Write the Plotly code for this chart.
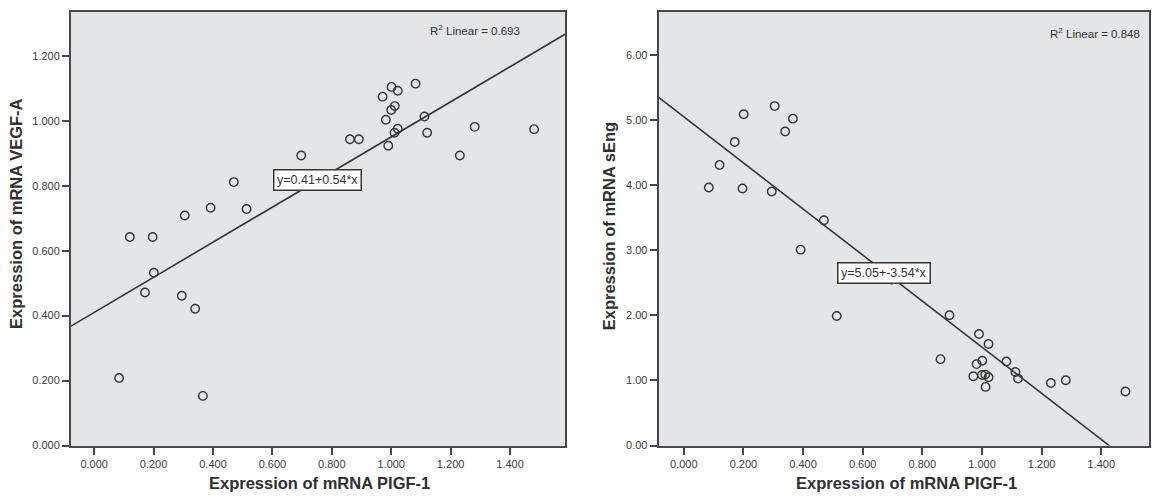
import plotly.graph_objects as go

# ---- data ----
pigf1 = [0.084, 0.120, 0.171, 0.197, 0.201, 0.295, 0.305, 0.340, 0.366, 0.392,
         0.470, 0.513, 0.697, 0.861, 0.891, 0.971, 0.982, 0.990, 1.000, 1.001,
         1.011, 1.012, 1.022, 1.022, 1.082, 1.112, 1.121, 1.231, 1.281, 1.481]
vegfa = [0.208, 0.642, 0.471, 0.642, 0.532, 0.461, 0.708, 0.421, 0.153, 0.732,
         0.811, 0.728, 0.893, 0.943, 0.943, 1.074, 1.003, 0.923, 1.033, 1.104,
         0.963, 1.045, 1.092, 0.975, 1.114, 1.013, 0.963, 0.893, 0.981, 0.974]
seng = [3.962, 4.310, 4.661, 3.947, 5.087, 3.901, 5.213, 4.822, 5.020, 3.009,
        3.460, 1.990, 2.550, 1.327, 2.001, 1.064, 1.251, 1.713, 1.084, 1.302,
        1.090, 0.901, 1.561, 1.049, 1.292, 1.129, 1.029, 0.962, 1.003, 0.831]

fit_left = (0.41, 0.54)     # intercept, slope
fit_right = (5.05, -3.54)
r2_left = "0.693"
r2_right = "0.848"

xticks = [0.0, 0.2, 0.4, 0.6, 0.8, 1.0, 1.2, 1.4]
yticks_left = [0.0, 0.2, 0.4, 0.6, 0.8, 1.0, 1.2]
yticks_right = [0, 1, 2, 3, 4, 5, 6]

xrange_left = [-0.078, 1.585]
xrange_right = [-0.084, 1.561]
yrange_left = [0, 1.335]
yrange_right = [0, 6.66]

W, H = 1156, 500
dark = "#363636"
frame = "#484848"
bg = "#e4e5e7"
font_fam = "Liberation Sans, Arial, sans-serif"

fig = go.Figure()

# scatter points
fig.add_trace(go.Scatter(x=pigf1, y=vegfa, mode="markers", xaxis="x", yaxis="y",
                         marker=dict(symbol="circle-open", size=8.5, color=dark,
                                     line=dict(width=1.4, color=dark)),
                         showlegend=False))
fig.add_trace(go.Scatter(x=pigf1, y=seng, mode="markers", xaxis="x2", yaxis="y2",
                         marker=dict(symbol="circle-open", size=8.5, color=dark,
                                     line=dict(width=1.4, color=dark)),
                         showlegend=False))

# regression lines
lx = xrange_left
fig.add_trace(go.Scatter(x=lx, y=[fit_left[0] + fit_left[1] * v for v in lx],
                         mode="lines", xaxis="x", yaxis="y",
                         line=dict(color=dark, width=1.6), showlegend=False))
rx = xrange_right
fig.add_trace(go.Scatter(x=rx, y=[fit_right[0] + fit_right[1] * v for v in rx],
                         mode="lines", xaxis="x2", yaxis="y2",
                         line=dict(color=dark, width=1.6), showlegend=False))

ydom = [1 - 451 / H, 1 - 12 / H]
axis_common = dict(showline=True, linewidth=2, linecolor=frame, mirror=True,
                   showgrid=False, zeroline=False, ticks="outside", ticklen=7,
                   tickwidth=1.6, tickcolor=frame,
                   tickfont=dict(family=font_fam, size=11, color="#3c3c3c"))

fig.update_layout(
    width=W, height=H,
    margin=dict(l=0, r=0, t=0, b=0),
    paper_bgcolor="white",
    plot_bgcolor=bg,
    xaxis=dict(domain=[71 / W, 565 / W], range=xrange_left, anchor="y",
               tickvals=xticks, tickformat=".3f", **axis_common),
    yaxis=dict(domain=ydom, range=yrange_left, anchor="x",
               tickvals=yticks_left, tickformat=".3f", **axis_common),
    xaxis2=dict(domain=[658.7 / W, 1149.3 / W], range=xrange_right, anchor="y2",
                tickvals=xticks, tickformat=".3f", **axis_common),
    yaxis2=dict(domain=ydom, range=yrange_right, anchor="x2",
                tickvals=yticks_right, tickformat=".2f", **axis_common),
)

title_font = dict(family=font_fam, size=16.5, color="#303030")
ann = []
ann.append(dict(text="<b>Expression of mRNA PIGF-1</b>", xref="paper", yref="paper",
                x=319 / W, y=1 - 489 / H, showarrow=False, font=title_font,
                xanchor="center", yanchor="middle"))
ann.append(dict(text="<b>Expression of mRNA PIGF-1</b>", xref="paper", yref="paper",
                x=906 / W, y=1 - 489 / H, showarrow=False, font=title_font,
                xanchor="center", yanchor="middle"))
ann.append(dict(text="<b>Expression of mRNA VEGF-A</b>", xref="paper", yref="paper",
                x=16.5 / W, y=1 - 216 / H, showarrow=False, font=title_font,
                textangle=-90, xanchor="center", yanchor="middle"))
ann.append(dict(text="<b>Expression of mRNA sEng</b>", xref="paper", yref="paper",
                x=609 / W, y=1 - 229 / H, showarrow=False, font=title_font,
                textangle=-90, xanchor="center", yanchor="middle"))

small = dict(family=font_fam, size=11.5, color="#333333")
ann.append(dict(text="R<sup>2</sup> Linear = " + r2_left, xref="paper", yref="paper",
                x=522 / W, y=1 - 30 / H, showarrow=False, font=small,
                xanchor="right", yanchor="middle"))
ann.append(dict(text="R<sup>2</sup> Linear = " + r2_right, xref="paper", yref="paper",
                x=1142 / W, y=1 - 33 / H, showarrow=False, font=small,
                xanchor="right", yanchor="middle"))

eq_font = dict(family=font_fam, size=12.5, color="#333333")
ann.append(dict(text="y=%.2f+%.2f*x" % fit_left, xref="x", yref="y",
                x=0.753, y=0.816, showarrow=False, font=eq_font,
                bgcolor="white", bordercolor=dark, borderwidth=1.5, borderpad=2.5))
ann.append(dict(text="y=%.2f+%.2f*x" % fit_right, xref="x2", yref="y2",
                x=0.671, y=2.655, showarrow=False, font=eq_font,
                bgcolor="white", bordercolor=dark, borderwidth=1.5, borderpad=2.5))

fig.update_layout(annotations=ann)
fig.write_html("out.html")
